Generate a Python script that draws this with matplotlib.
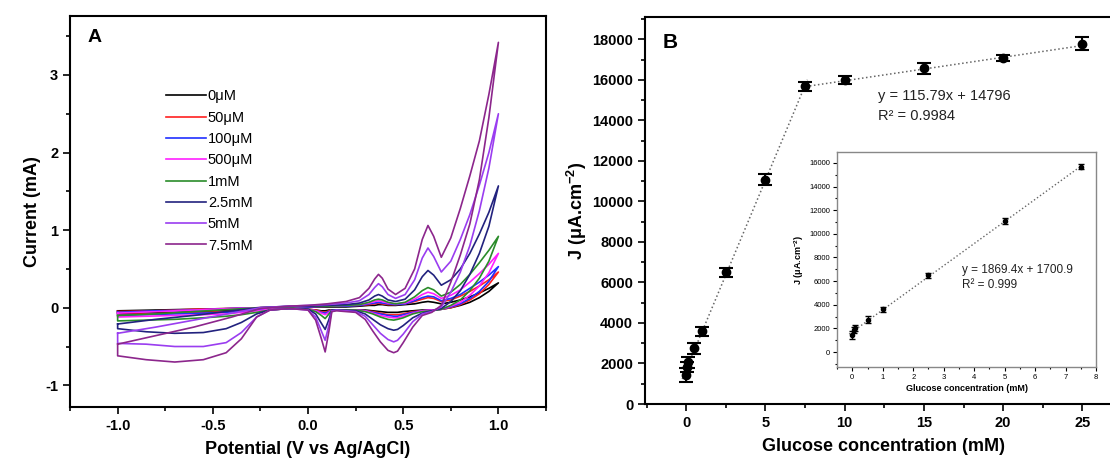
import matplotlib
matplotlib.use("Agg")
import matplotlib.pyplot as plt
from matplotlib.ticker import MultipleLocator
import numpy as np

plt.rcParams["font.family"] = ["Liberation Sans", "DejaVu Sans"]
plt.rcParams["mathtext.fontset"] = "custom"
plt.rcParams["mathtext.rm"] = "Liberation Sans"
plt.rcParams["mathtext.bf"] = "Liberation Sans:bold"

# ---- panel A: cyclic voltammograms (potential in V, current in mA) ----
labels_cv = ["0μM", "50μM", "100μM", "500μM", "1mM", "2.5mM", "5mM", "7.5mM"]
colors_cv = ["#000000", "#ff2020", "#2030ff", "#ff20ff", "#2a8c2a", "#22227e", "#9a3df0", "#8c268c"]

v_fwd = [-1.0, -0.8, -0.6, -0.4, -0.25, -0.1, 0.0, 0.1, 0.2, 0.27, 0.32, 0.35, 0.37, 0.39,
         0.42, 0.46, 0.51, 0.56, 0.60, 0.63, 0.66, 0.70, 0.75, 0.80, 0.85, 0.90, 0.95, 1.0]
v_rev = [1.0, 0.95, 0.9, 0.85, 0.8, 0.75, 0.7, 0.65, 0.6, 0.55, 0.5, 0.47, 0.45, 0.42, 0.38,
         0.34, 0.3, 0.25, 0.15, 0.125, 0.11, 0.09, 0.07, 0.04, 0.0, -0.1, -0.2, -0.27, -0.35,
         -0.43, -0.55, -0.7, -0.85, -1.0]

i_fwd = [
    [-0.04, -0.03, -0.02, -0.01, 0.0, 0.0, 0.01, 0.01, 0.01, 0.02, 0.03, 0.03, 0.04, 0.04,
     0.03, 0.03, 0.04, 0.05, 0.07, 0.08, 0.07, 0.05, 0.07, 0.10, 0.14, 0.19, 0.25, 0.32],
    [-0.05, -0.04, -0.02, -0.01, 0.0, 0.01, 0.01, 0.02, 0.02, 0.03, 0.04, 0.05, 0.06, 0.05,
     0.04, 0.04, 0.05, 0.08, 0.11, 0.13, 0.12, 0.08, 0.10, 0.15, 0.21, 0.28, 0.36, 0.46],
    [-0.06, -0.04, -0.03, -0.01, 0.0, 0.01, 0.01, 0.02, 0.02, 0.03, 0.05, 0.06, 0.07, 0.06,
     0.05, 0.04, 0.05, 0.09, 0.13, 0.15, 0.14, 0.09, 0.12, 0.17, 0.25, 0.33, 0.42, 0.53],
    [-0.07, -0.05, -0.03, -0.01, 0.0, 0.01, 0.02, 0.02, 0.03, 0.04, 0.06, 0.08, 0.09, 0.08,
     0.06, 0.05, 0.06, 0.11, 0.17, 0.20, 0.18, 0.12, 0.16, 0.23, 0.33, 0.44, 0.56, 0.70],
    [-0.10, -0.08, -0.05, -0.02, 0.0, 0.01, 0.02, 0.02, 0.03, 0.04, 0.07, 0.10, 0.11, 0.10,
     0.07, 0.05, 0.07, 0.14, 0.22, 0.26, 0.23, 0.15, 0.20, 0.30, 0.43, 0.58, 0.74, 0.92],
    [-0.21, -0.15, -0.10, -0.04, 0.0, 0.02, 0.02, 0.03, 0.04, 0.06, 0.10, 0.15, 0.17, 0.15,
     0.10, 0.08, 0.11, 0.23, 0.40, 0.48, 0.42, 0.29, 0.36, 0.50, 0.70, 0.95, 1.23, 1.57],
    [-0.33, -0.25, -0.16, -0.07, 0.0, 0.02, 0.03, 0.04, 0.06, 0.09, 0.17, 0.26, 0.31, 0.27,
     0.17, 0.12, 0.17, 0.36, 0.64, 0.77, 0.66, 0.46, 0.60, 0.88, 1.20, 1.58, 2.00, 2.50],
    [-0.47, -0.36, -0.25, -0.12, -0.01, 0.02, 0.03, 0.05, 0.08, 0.13, 0.25, 0.37, 0.43, 0.38,
     0.24, 0.17, 0.25, 0.50, 0.88, 1.06, 0.92, 0.65, 0.90, 1.28, 1.70, 2.15, 2.75, 3.42],
]
i_rev = [
    [0.32, 0.21, 0.13, 0.07, 0.03, 0.0, -0.02, -0.03, -0.03, -0.04, -0.05, -0.06, -0.06, -0.06,
     -0.05, -0.04, -0.03, -0.03, -0.03, -0.03, -0.03, -0.04, -0.04, -0.03, -0.02, -0.01, -0.02,
     -0.02, -0.03, -0.04, -0.05, -0.06, -0.07, -0.08],
    [0.46, 0.30, 0.18, 0.10, 0.04, 0.0, -0.02, -0.03, -0.04, -0.05, -0.08, -0.09, -0.09, -0.09,
     -0.07, -0.05, -0.04, -0.03, -0.03, -0.03, -0.04, -0.06, -0.05, -0.03, -0.02, -0.01, -0.02,
     -0.03, -0.04, -0.05, -0.06, -0.07, -0.08, -0.09],
    [0.53, 0.34, 0.21, 0.12, 0.05, 0.01, -0.02, -0.03, -0.04, -0.06, -0.09, -0.11, -0.11, -0.10,
     -0.08, -0.06, -0.04, -0.03, -0.03, -0.03, -0.05, -0.07, -0.06, -0.04, -0.02, -0.01, -0.02,
     -0.03, -0.05, -0.06, -0.07, -0.08, -0.09, -0.10],
    [0.70, 0.45, 0.28, 0.16, 0.07, 0.02, -0.02, -0.03, -0.04, -0.07, -0.11, -0.13, -0.13, -0.12,
     -0.10, -0.07, -0.04, -0.03, -0.03, -0.03, -0.06, -0.09, -0.07, -0.04, -0.02, -0.01, -0.02,
     -0.04, -0.06, -0.08, -0.09, -0.10, -0.11, -0.12],
    [0.92, 0.60, 0.38, 0.22, 0.10, 0.03, -0.02, -0.04, -0.05, -0.08, -0.13, -0.15, -0.16, -0.15,
     -0.12, -0.08, -0.05, -0.03, -0.03, -0.03, -0.08, -0.14, -0.10, -0.05, -0.02, -0.01, -0.03,
     -0.06, -0.09, -0.11, -0.13, -0.15, -0.16, -0.17],
    [1.57, 1.05, 0.70, 0.43, 0.22, 0.08, -0.01, -0.04, -0.07, -0.13, -0.23, -0.28, -0.29, -0.27,
     -0.22, -0.15, -0.08, -0.04, -0.03, -0.03, -0.15, -0.28, -0.20, -0.08, -0.02, -0.01, -0.03,
     -0.08, -0.19, -0.27, -0.32, -0.33, -0.31, -0.27],
    [2.50, 1.80, 1.25, 0.80, 0.46, 0.20, 0.01, -0.05, -0.08, -0.18, -0.34, -0.42, -0.44, -0.41,
     -0.33, -0.22, -0.11, -0.05, -0.03, -0.04, -0.22, -0.42, -0.30, -0.12, -0.03, -0.01, -0.03,
     -0.12, -0.32, -0.45, -0.50, -0.50, -0.47, -0.46],
    [3.42, 2.45, 1.65, 1.08, 0.68, 0.33, 0.03, -0.06, -0.10, -0.25, -0.45, -0.56, -0.58, -0.55,
     -0.44, -0.30, -0.15, -0.06, -0.04, -0.05, -0.30, -0.57, -0.40, -0.16, -0.03, -0.01, -0.03,
     -0.12, -0.40, -0.58, -0.67, -0.70, -0.67, -0.62],
]

# ---- panel B: calibration (glucose mM, J in uA/cm2) ----
conc = [0, 0.05, 0.1, 0.5, 1, 2.5, 5, 7.5, 10, 15, 20, 25]
j_mean = [1450, 1830, 2050, 2750, 3600, 6500, 11080, 15680, 15970, 16570, 17090, 17780]
j_err = [350, 250, 250, 260, 220, 220, 280, 230, 200, 280, 140, 320]

fit_low = (1869.4, 1700.9)
fit_high = (115.79, 14796)
fit_low_range = [-0.25, 7.65]
fit_high_range = [7.3, 25.3]
inset_fit_range = [-0.1, 7.55]

fig = plt.figure(figsize=(11.1, 4.62), dpi=100)

# panel A
ax = fig.add_axes([0.0631, 0.1190, 0.4288, 0.8464])
for k in range(len(labels_cv)):
    xs = v_fwd + v_rev + [v_fwd[0]]
    ys = i_fwd[k] + i_rev[k] + [i_fwd[k][0]]
    ax.plot(xs, ys, color=colors_cv[k], lw=1.2, label=labels_cv[k])
ax.set_xlim(-1.25, 1.25)
ax.set_ylim(-1.28, 3.76)
ax.xaxis.set_major_locator(MultipleLocator(0.5))
ax.xaxis.set_minor_locator(MultipleLocator(0.25))
ax.yaxis.set_major_locator(MultipleLocator(1))
ax.yaxis.set_minor_locator(MultipleLocator(0.5))
ax.set_xticks([-1.0, -0.5, 0.0, 0.5, 1.0])
ax.set_xticklabels(["-1.0", "-0.5", "0.0", "0.5", "1.0"])
ax.set_yticks([-1, 0, 1, 2, 3])
ax.set_yticklabels(["-1", "0", "1", "2", "3"])
ax.tick_params(which="both", direction="out", width=1.2, top=False, right=False, labelsize=10.5)
ax.tick_params(which="major", length=5)
ax.tick_params(which="minor", length=3)
for t in ax.get_xticklabels() + ax.get_yticklabels():
    t.set_fontweight("bold")
for s in ax.spines.values():
    s.set_linewidth(1.5)
ax.set_xlabel("Potential (V vs Ag/AgCl)", fontsize=13, fontweight="bold", labelpad=6)
ax.set_ylabel("Current (mA)", fontsize=13, fontweight="bold", labelpad=3)
ax.text(0.036, 0.944, "A", transform=ax.transAxes, ha="left", va="center",
        fontsize=14, fontweight="bold")
ax.legend(loc="upper left", bbox_to_anchor=(0.19, 0.827), frameon=False, fontsize=10.5,
          handlelength=2.7, handletextpad=0.15, labelspacing=0.5, borderaxespad=0)

# panel B
bx = fig.add_axes([0.5811, 0.1255, 0.4297, 0.8377])
bx.plot(fit_low_range, [fit_low[0] * x + fit_low[1] for x in fit_low_range],
        ls=":", color="#666666", lw=1.1)
bx.plot(fit_high_range, [fit_high[0] * x + fit_high[1] for x in fit_high_range],
        ls=":", color="#666666", lw=1.1)
bx.errorbar(conc, j_mean, yerr=j_err, fmt="o", color="black", ms=6, capsize=5,
            elinewidth=1.5, capthick=1.5)
bx.set_xlim(-2.6, 27.5)
bx.set_ylim(0, 19100)
bx.xaxis.set_major_locator(MultipleLocator(5))
bx.xaxis.set_minor_locator(MultipleLocator(2.5))
bx.yaxis.set_major_locator(MultipleLocator(2000))
bx.yaxis.set_minor_locator(MultipleLocator(1000))
bx.tick_params(which="both", direction="out", width=1.2, top=False, right=False, labelsize=10.5)
bx.tick_params(which="major", length=5)
bx.tick_params(which="minor", length=3)
for t in bx.get_xticklabels() + bx.get_yticklabels():
    t.set_fontweight("bold")
for s in bx.spines.values():
    s.set_linewidth(1.5)
bx.set_xlabel("Glucose concentration (mM)", fontsize=13, fontweight="bold", labelpad=6)
bx.set_ylabel(r"J (μA.cm$^{\mathbf{-2}}$)", fontsize=13, fontweight="bold", labelpad=2)
bx.text(0.036, 0.935, "B", transform=bx.transAxes, ha="left", va="center",
        fontsize=15, fontweight="bold")
bx.text(12.1, 15180, "y = 115.79x + 14796", fontsize=10.5, va="center", color="#222222")
bx.text(12.1, 14200, "R² = 0.9984", fontsize=10.5, va="center", color="#222222")

# inset
ix = fig.add_axes([0.7541, 0.2056, 0.2333, 0.4654])
ix.plot(inset_fit_range, [fit_low[0] * x + fit_low[1] for x in inset_fit_range],
        ls=":", color="#666666", lw=1.0)
ix.errorbar(conc[:8], j_mean[:8], yerr=j_err[:8], fmt="o", color="black", ms=3,
            capsize=2.5, elinewidth=1.0, capthick=1.0)
ix.set_xlim(-0.5, 8.0)
ix.set_ylim(-1270, 16930)
ix.xaxis.set_major_locator(MultipleLocator(1))
ix.xaxis.set_minor_locator(MultipleLocator(0.5))
ix.yaxis.set_major_locator(MultipleLocator(2000))
ix.yaxis.set_minor_locator(MultipleLocator(1000))
ix.tick_params(which="both", direction="out", width=0.8, top=False, right=False,
               labelsize=5.5, pad=2)
ix.tick_params(which="major", length=3)
ix.tick_params(which="minor", length=1.5)
for s in ix.spines.values():
    s.set_linewidth(1.0)
    s.set_color("#888888")
ix.set_xlabel("Glucose concentration (mM)", fontsize=6.5, fontweight="bold", labelpad=2)
ix.set_ylabel(r"J (μA.cm$^{\mathbf{-2}}$)", fontsize=6.5, fontweight="bold", labelpad=2)
ix.text(3.6, 6940, "y = 1869.4x + 1700.9", fontsize=8.5, va="center", color="#222222")
ix.text(3.6, 5670, "R² = 0.999", fontsize=8.5, va="center", color="#222222")

fig.savefig("out.png", dpi=100)
